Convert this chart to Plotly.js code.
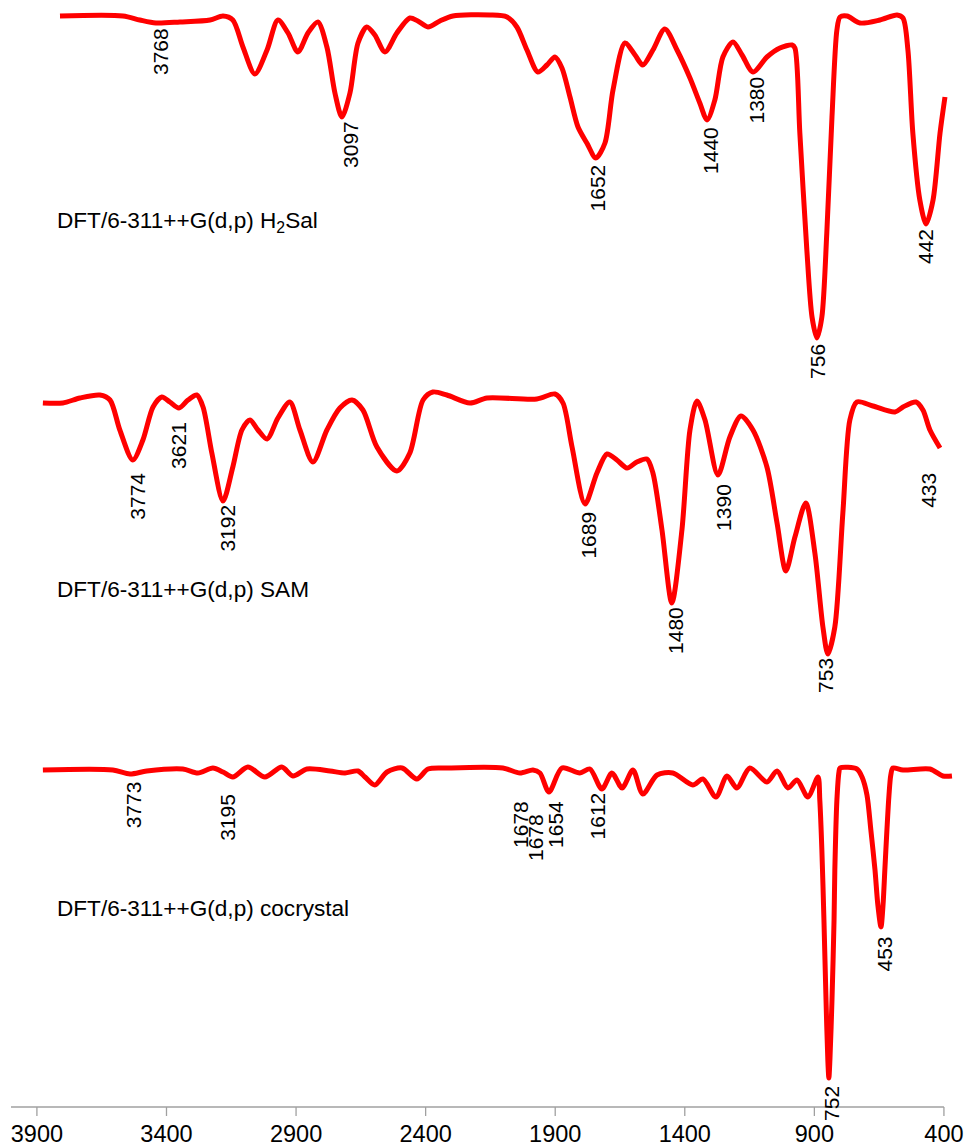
<!DOCTYPE html>
<html>
<head>
<meta charset="utf-8">
<script src="https://cdn.plot.ly/plotly-3.0.1.min.js"></script>
<style>html,body{margin:0;padding:0;background:#fff;}#chart{width:966px;height:1148px;}</style>
</head>
<body>
<div id="chart"></div>
<script>
// ---------- DATA (wavenumber, cm-1 ; absorption depth below each spectrum's baseline, arbitrary units) ----------
const seriesNames = ['DFT/6-311++G(d,p) H<sub>2</sub>Sal', 'DFT/6-311++G(d,p) SAM', 'DFT/6-311++G(d,p) cocrystal'];

const wnH2Sal = [3811,3568,3503,3441,3348,3232,3182,3144,3105,3059,3012,2970,2931,2893,2854,2816,2781,2750,2723,2692,2661,2627,2596,2557,2511,2461,2430,2391,2345,2295,2152,2086,2048,2009,1967,1932,1901,1874,1843,1812,1778,1743,1708,1677,1631,1592,1562,1523,1477,1430,1380,1342,1314,1284,1253,1214,1179,1137,1083,1033,986,975,956,929,909,890,871,852,832,813,801,774,724,647,581,558,539,520,493,469,442,415,396];
const depthH2Sal = [1,1,5,8,7,5,1,5,32,59,35,5,18,37,18,7,32,78,102,78,28,12,20,37,18,3,6,12,6,1,0,2,12,35,57,50,42,53,82,112,128,143,128,75,28,40,50,35,14,35,63,88,105,85,42,27,40,57,42,33,30,33,118,235,302,323,302,218,102,15,2,1,8,5,0,3,35,118,185,209,185,118,82];

const wnSAM = [3877,3800,3734,3657,3618,3580,3530,3491,3452,3418,3387,3352,3317,3283,3259,3225,3182,3144,3109,3078,3047,3012,2970,2924,2885,2835,2781,2731,2684,2642,2588,2511,2461,2410,2372,2318,2229,2163,1971,1901,1870,1835,1785,1739,1700,1662,1623,1585,1546,1523,1488,1450,1411,1380,1353,1322,1272,1226,1183,1137,1083,1044,1010,975,933,898,867,848,821,790,763,736,674,589,558,508,481,454,415];
const depthSAM = [11,11,6,3,8,38,68,48,15,5,10,16,8,3,15,61,109,75,38,28,38,47,26,10,38,70,38,16,8,18,55,79,61,8,0,3,11,6,7,2,11,55,112,81,62,68,76,70,67,81,138,211,138,38,9,28,83,45,24,38,75,131,179,145,111,161,235,262,235,121,28,10,14,20,15,10,18,38,56];

const wnCoc = [3877,3607,3541,3476,3337,3279,3221,3182,3144,3086,3020,2955,2912,2858,2769,2711,2661,2634,2596,2549,2491,2434,2391,2318,2102,2036,1986,1959,1924,1874,1805,1766,1720,1681,1642,1600,1562,1507,1446,1369,1330,1280,1237,1199,1149,1083,1044,1002,967,925,886,879,871,863,855,848,844,840,832,824,821,813,805,801,736,716,697,682,666,655,643,635,628,620,612,605,597,558,454,404,369];
const depthCoc = [3,3,7,4,2,6,1,5,10,0,10,0,9,2,4,6,4,10,18,5,1,12,2,1,1,6,3,6,25,1,6,2,22,6,21,3,27,8,6,18,12,30,9,21,1,15,4,21,13,30,10,33,83,153,233,293,311,293,233,153,103,33,5,1,2,10,28,63,103,138,160,138,103,63,28,8,1,3,2,9,9];

// peak labels: text, wavenumber where the label sits, depth of label centre
const pkTextH2Sal = ['3768','3097','1652','1440','1380','756','442'];
const pkWnH2Sal   = [3425,2692,1737,1303,1127,890,473];
const pkDepH2Sal  = [37,129,173,135,85,346,232];

const pkTextSAM = ['3774','3621','3192','1689','1480','1390','753','433'];
const pkWnSAM   = [3515,3356,3168,1775,1438,1253,859,462];
const pkDepSAM  = [104,53,136,143,238,115,283,98];

const pkTextCoc = ['3773','3195','1678','1678','1654','1612','453','752'];
const pkWnCoc   = [3528,3167,2036,1978,1901,1737,633,836];
const pkDepCoc  = [38,50,57,71,57,49,187,336];

const xTicks = [3900,3400,2900,2400,1900,1400,900,400];

// ---------- LAYOUT / STYLE ----------
const baseOffsets = [15, 392, 767];       // vertical placement of each spectrum
const nameDepth = [207, 197, 141];        // vertical placement of each spectrum name
const nameWn = 3831;
const FONT = 'Liberation Sans, Arial, sans-serif';
const AXIS_GREY = '#a0a0a0';

const specs = [
  {wn: wnH2Sal, d: depthH2Sal, pt: pkTextH2Sal, pw: pkWnH2Sal, pd: pkDepH2Sal},
  {wn: wnSAM, d: depthSAM, pt: pkTextSAM, pw: pkWnSAM, pd: pkDepSAM},
  {wn: wnCoc, d: depthCoc, pt: pkTextCoc, pw: pkWnCoc, pd: pkDepCoc}
];

const traces = [];
const annotations = [];
specs.forEach((s, i) => {
  const off = baseOffsets[i];
  traces.push({
    type: 'scatter', mode: 'lines',
    x: s.wn, y: s.d.map(v => -(off + v)),
    line: {color: '#ff0000', width: 5, shape: 'spline', smoothing: 0.8},
    hoverinfo: 'skip', showlegend: false
  });
  s.pt.forEach((t, k) => {
    annotations.push({
      x: s.pw[k], y: -(off + s.pd[k]), xref: 'x', yref: 'y',
      text: t, showarrow: false, textangle: -90,
      xanchor: 'center', yanchor: 'middle',
      font: {family: FONT, size: 21, color: '#000'}
    });
  });
  annotations.push({
    x: nameWn, y: -(off + nameDepth[i]), xref: 'x', yref: 'y',
    text: seriesNames[i], showarrow: false,
    xanchor: 'left', yanchor: 'middle',
    font: {family: FONT, size: 22.6, color: '#000'}
  });
});

const shapes = [{
  type: 'line', xref: 'x', yref: 'paper', x0: 4000, x1: xTicks[xTicks.length - 1], y0: 0, y1: 0,
  line: {color: AXIS_GREY, width: 1.3}
}];
xTicks.forEach(v => shapes.push({
  type: 'line', xref: 'x', yref: 'paper', ysizemode: 'pixel', yanchor: 0,
  x0: v, x1: v, y0: 0, y1: -9,
  line: {color: AXIS_GREY, width: 1.3}
}));

const layout = {
  width: 966, height: 1148,
  margin: {l: 11, r: 13, t: 0, b: 41, pad: 0},
  paper_bgcolor: '#fff', plot_bgcolor: '#fff',
  showlegend: false,
  xaxis: {
    range: [4000, 365], showgrid: false, zeroline: false, showline: false,
    tickmode: 'array', tickvals: xTicks, ticktext: xTicks.map(String),
    ticks: '', ticklabelstandoff: 10,
    tickfont: {family: FONT, size: 23.5, color: '#000'}
  },
  yaxis: {
    range: [-1107, 0], visible: false, showgrid: false, zeroline: false, fixedrange: true
  },
  shapes: shapes,
  annotations: annotations
};

Plotly.newPlot('chart', traces, layout, {displayModeBar: false, staticPlot: true});
</script>
</body>
</html>
